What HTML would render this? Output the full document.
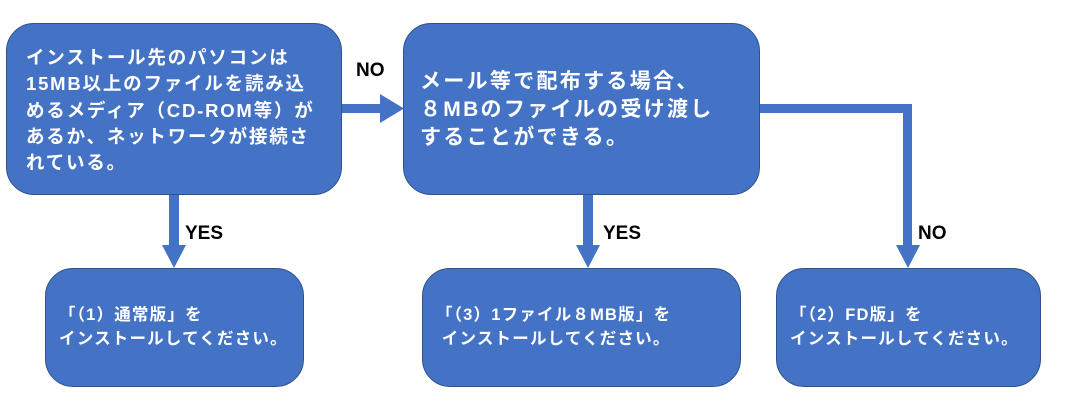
<!DOCTYPE html>
<html><head><meta charset="utf-8"><style>
body{margin:0;width:1071px;height:407px;background:#fff;position:relative;overflow:hidden;font-family:"Liberation Sans","Noto Sans CJK JP",sans-serif;font-weight:bold}
.b{position:absolute;background:#4472C4;border:1.5px solid #2F528F;box-sizing:border-box;border-radius:28px;color:#fff}
.t{position:absolute;white-space:nowrap}
.l{position:absolute;font-size:19px;color:#000}
</style></head><body>
<svg width="1071" height="407" style="position:absolute;left:0;top:0">
<g fill="#4472C4">
<rect x="340" y="104" width="42" height="9"/>
<polygon points="380,94 404,108.5 380,123"/>
<rect x="169" y="193" width="10" height="54"/>
<polygon points="162,245 186,245 174,268"/>
<rect x="583" y="193" width="10" height="54"/>
<polygon points="576,245 600,245 588,268"/>
<rect x="758" y="104" width="154" height="9"/>
<rect x="903" y="104" width="9" height="143"/>
<polygon points="896,245 920,245 908,268"/>
</g></svg>
<div class="b" style="left:6px;top:23px;width:336px;height:172px"><div class="t" style="left:19px;top:21px;font-size:18.5px;line-height:26.3px;letter-spacing:1.8px">インストール先のパソコンは<br>15MB以上のファイルを読み込<br>めるメディア（CD-ROM等）が<br>あるか、ネットワークが接続さ<br>れている。</div></div>
<div class="b" style="left:403px;top:23px;width:357px;height:172px"><div class="t" style="left:16px;top:44px;font-size:21px;line-height:28px;letter-spacing:2.3px">メール等で配布する場合、<br>８MBのファイルの受け渡し<br>することができる。</div></div>
<div class="b" style="left:45px;top:268px;width:259px;height:119px"><div class="t" style="left:13px;top:35px;font-size:16.5px;line-height:23.5px;letter-spacing:1.2px">「（1）通常版」を<br>インストールしてください。</div></div>
<div class="b" style="left:422px;top:268px;width:319px;height:119px"><div class="t" style="left:13px;top:35px;font-size:16.5px;line-height:23.5px;letter-spacing:1.2px">「（3）1ファイル８MB版」を<br>&nbsp;インストールしてください。</div></div>
<div class="b" style="left:776px;top:268px;width:265px;height:119px"><div class="t" style="left:13px;top:35px;font-size:16.5px;line-height:23.5px;letter-spacing:1.2px">「（2）FD版」を<br>インストールしてください。</div></div>
<div class="l" style="left:356px;top:60px">NO</div>
<div class="l" style="left:185px;top:223px">YES</div>
<div class="l" style="left:603px;top:223px">YES</div>
<div class="l" style="left:918px;top:223px">NO</div>
</body></html>
